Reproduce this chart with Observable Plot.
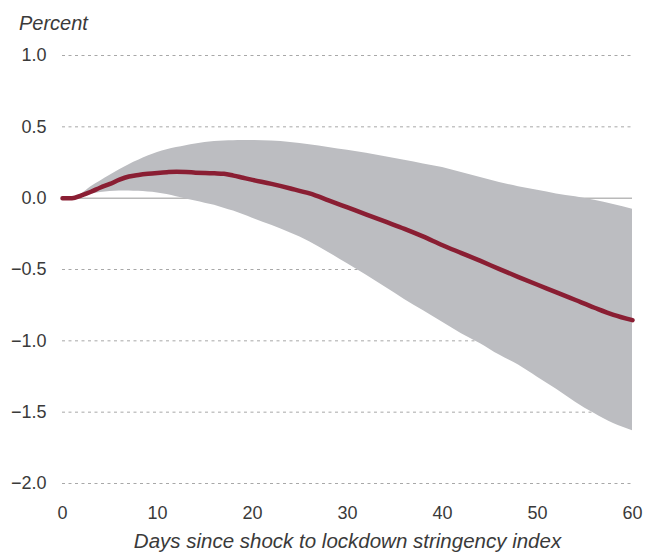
<!DOCTYPE html>
<html>
<head>
<meta charset="utf-8">
<script src="https://cdn.jsdelivr.net/npm/d3@7"></script>
<script src="https://cdn.jsdelivr.net/npm/@observablehq/plot@0.6"></script>
<style>
  body { margin: 0; background: #fff; }
  #wrap { position: relative; width: 645px; height: 553px; font-family: "Liberation Sans", "DejaVu Sans", sans-serif; }
  #ylab { position: absolute; left: 19px; top: 11px; font-size: 20px; font-style: italic; color: #3a3a3a; line-height: 24px; }
  #chart { position: absolute; left: 0; top: 0; }
</style>
</head>
<body>
<div id="wrap">
  <div id="chart"></div>
  <div id="ylab">Percent</div>
</div>
<script>
const days    = [0,1,2,3,4,5,6,7,8,9,10,11,12,13,14,15,16,17,18,19,20,22,24,26,28,30,32,34,36,38,40,42,44,46,48,50,52,54,56,58,60];
const central = [0,0,0.02,0.045,0.075,0.10,0.13,0.152,0.163,0.171,0.177,0.182,0.185,0.183,0.179,0.176,0.174,0.171,0.158,0.143,0.128,0.10,0.068,0.033,-0.015,-0.065,-0.115,-0.165,-0.215,-0.27,-0.33,-0.385,-0.44,-0.497,-0.553,-0.607,-0.66,-0.714,-0.768,-0.818,-0.855];
const upper   = [0,0,0.03,0.08,0.12,0.16,0.20,0.235,0.265,0.295,0.32,0.34,0.355,0.368,0.38,0.39,0.397,0.401,0.403,0.404,0.404,0.40,0.39,0.374,0.355,0.335,0.315,0.29,0.265,0.24,0.215,0.18,0.145,0.11,0.08,0.055,0.03,0.01,-0.015,-0.045,-0.078];
const lower   = [0,0,0.015,0.03,0.04,0.047,0.05,0.051,0.048,0.043,0.037,0.025,0.01,-0.005,-0.02,-0.035,-0.05,-0.07,-0.09,-0.115,-0.14,-0.19,-0.245,-0.305,-0.38,-0.46,-0.54,-0.625,-0.71,-0.79,-0.87,-0.95,-1.02,-1.10,-1.17,-1.255,-1.34,-1.43,-1.51,-1.58,-1.63];
const yTicks  = [-2,-1.5,-1,-0.5,0,0.5,1];
const xTicks  = [0,10,20,30,40,50,60];

const data = days.map((d, i) => ({day: d, mid: central[i], hi: upper[i], lo: lower[i]}));
const fmt = d3.format(".1f");

const chart = Plot.plot({
  width: 645,
  height: 553,
  marginLeft: 62,
  marginRight: 13,
  marginTop: 55,
  marginBottom: 70,
  style: {fontFamily: "'Liberation Sans', 'DejaVu Sans', sans-serif", fontSize: "18px", color: "#3a3a3a", background: "#fff"},
  x: {domain: [0, 60]},
  y: {domain: [-2, 1]},
  marks: [
    Plot.ruleY(yTicks.filter(t => t !== 0), {stroke: "#a8a8a8", strokeDasharray: "3,3.5", strokeWidth: 1}),
    Plot.ruleY([0], {stroke: "#b9b9b9", strokeWidth: 1.5}),
    Plot.areaY(data, {x: "day", y1: "lo", y2: "hi", fill: "#bcbdc1", curve: "monotone-x"}),
    Plot.line(data, {x: "day", y: "mid", stroke: "#8a1e33", strokeWidth: 4.5, curve: "monotone-x", strokeLinecap: "round"}),
    Plot.axisY(yTicks, {tickSize: 0, tickPadding: 16, tickFormat: fmt, label: null, fill: "#3a3a3a", fontSize: 18}),
    Plot.axisX(xTicks, {tickSize: 0, tickPadding: 23, tickFormat: d => String(d), label: null, fill: "#3a3a3a", fontSize: 18}),
    Plot.text(["Days since shock to lockdown stringency index"], {frameAnchor: "bottom", dy: 64, fontStyle: "italic", fontSize: 20.5, fill: "#3a3a3a"})
  ]
});
document.getElementById("chart").appendChild(chart);
</script>
</body>
</html>
